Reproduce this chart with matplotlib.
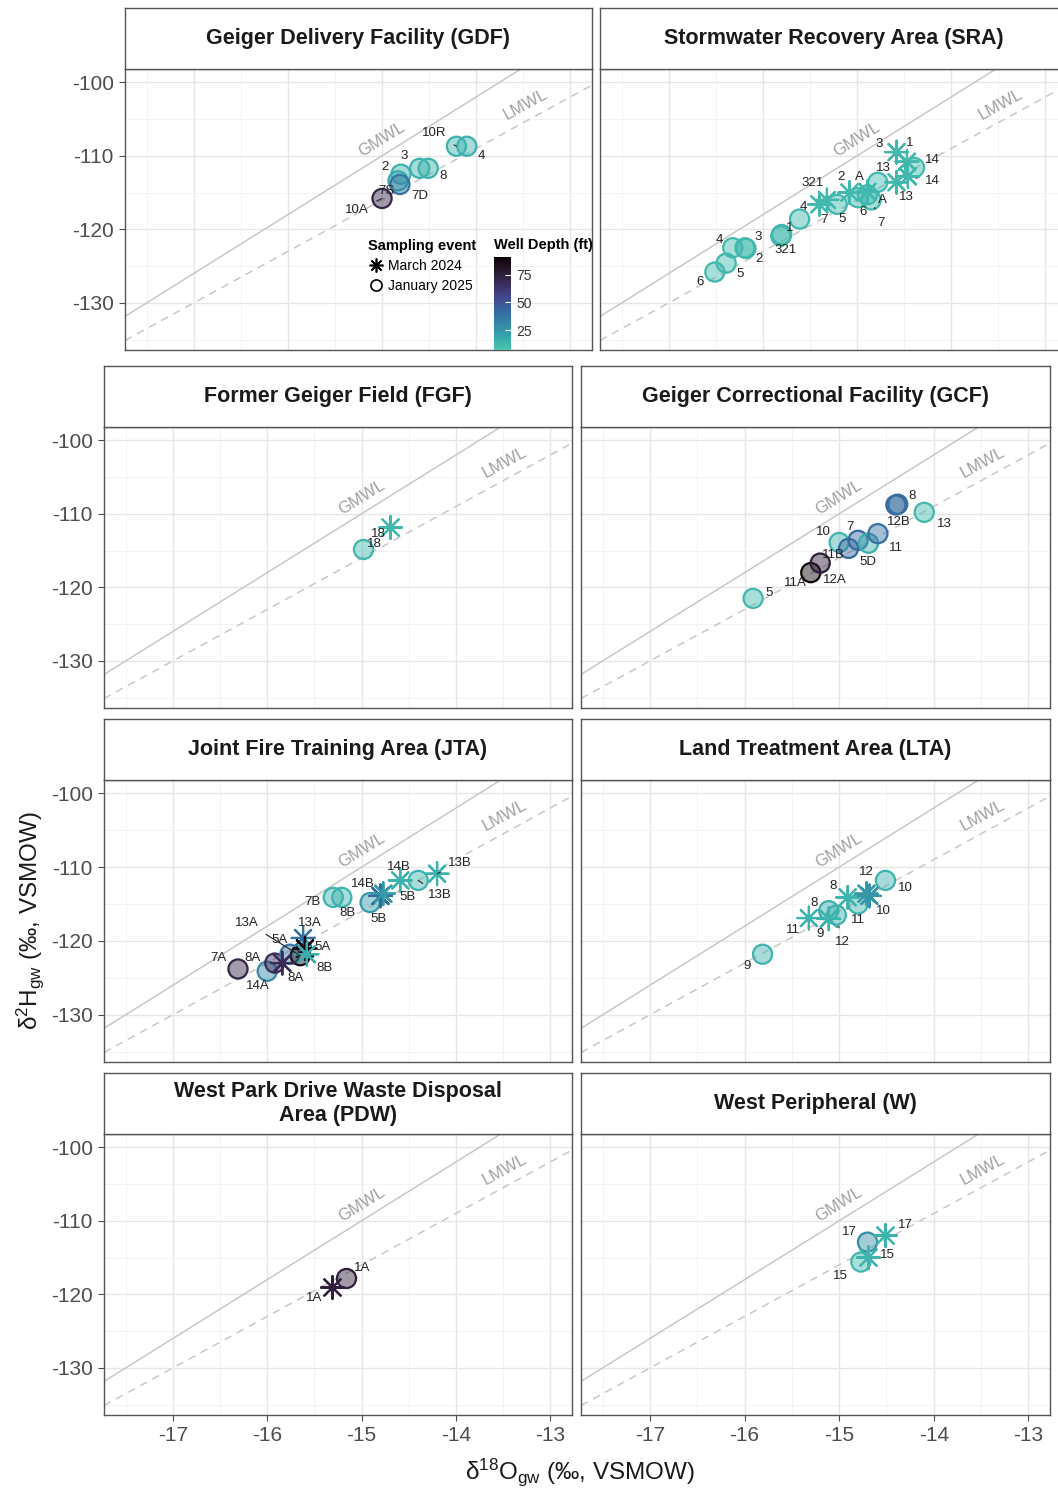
import numpy as np
import matplotlib
matplotlib.use("Agg")
import matplotlib.pyplot as plt
import seaborn as sns
from matplotlib.lines import Line2D
from matplotlib.colors import ListedColormap, Normalize

plt.rcParams['font.family'] = ['Liberation Sans', 'DejaVu Sans']
plt.rcParams['mathtext.fontset'] = 'custom'
plt.rcParams['mathtext.rm'] = 'Liberation Sans'
plt.rcParams['mathtext.it'] = 'Liberation Sans:italic'
plt.rcParams['axes.unicode_minus'] = False

# ---- data (d18O, d2H per site; event J = January 2025, M = March 2024) ----
gdf_site = ['10R', '4', '3', '8', '2', '7S', '7D', '10A']
gdf_o18 = [-14.21, -14.10, -14.60, -14.51, -14.80, -14.83, -14.81, -15.00]
gdf_h2 = [-108.7, -108.7, -111.7, -111.7, -112.5, -113.4, -113.9, -115.8]
gdf_depth = [15, 15, 15, 15, 15, 18, 38, 72]
gdf_event = ['J'] * 8
gdf_off = [(-22, 13), (15, -10), (-16, 12), (15, -8), (-16, 7), (-12, -10), (20, -12), (-25, -12)]

sra_site = ['6', '5', '4', '3', '2', '1', '321', '4', '5', '6', 'A', '7', '13', '14',
            '7', '321', '2', 'A', '3', '1', '13', '14']
sra_o18 = [-16.51, -16.39, -16.32, -16.19, -16.18, -15.80, -15.81, -15.61, -15.21, -14.99,
           -14.89, -14.85, -14.78, -14.39,
           -15.40, -15.32, -15.08, -14.89, -14.58, -14.47, -14.58, -14.46]
sra_h2 = [-125.8, -124.6, -122.5, -122.5, -122.6, -120.7, -120.9, -118.6, -116.6, -115.7,
          -115.3, -116.0, -113.6, -111.6,
          -116.6, -116.0, -115.0, -114.9, -109.5, -110.8, -113.6, -112.8]
sra_depth = [12] * 22
sra_event = ['J'] * 14 + ['M'] * 8
sra_off = [(-15, -10), (14, -11), (-13, 8), (13, 11), (13, -11), (8, 7), (5, -14), (4, 12),
           (5, -15), (5, -14), (15, -5), (10, -23), (6, 14), (18, 8),
           (5, -16), (-14, 17), (-9, 16), (-8, 15), (-17, 8), (3, 19), (10, -15), (25, -5)]

fgf_site = ['18', '18']
fgf_o18 = [-14.99, -14.70]
fgf_h2 = [-114.8, -111.8]
fgf_depth = [12, 12]
fgf_event = ['J', 'M']
fgf_off = [(12, 5), (-12, -7)]

gcf_site = ['5', '11A', '12A', '10', '11B', '7', '5D', '11', '12B', '8', '13']
gcf_o18 = [-15.91, -15.30, -15.20, -15.00, -14.90, -14.80, -14.69, -14.59, -14.40, -14.38, -14.10]
gcf_h2 = [-121.5, -118.0, -116.7, -113.9, -114.7, -113.6, -114.0, -112.7, -108.8, -108.7, -109.8]
gcf_depth = [12, 90, 76, 14, 42, 42, 16, 40, 42, 40, 12]
gcf_event = ['J'] * 11
gcf_off = [(16, 5), (-15, -10), (15, -17), (-16, 10), (-15, -7), (-8, 13), (-1, -19),
           (18, -14), (3, -17), (14, 8), (20, -12)]

jta_site = ['7A', '14A', '8A', '5A', '13A', '7B', '8B', '5B', '13B',
            '8A', '13A', '5A', '8B', '14B', '5B', '14B', '13B']
jta_o18 = [-16.31, -16.00, -15.92, -15.76, -15.65, -15.30, -15.21, -14.91, -14.40,
           -15.84, -15.62, -15.60, -15.58, -14.80, -14.77, -14.59, -14.20]
jta_h2 = [-123.8, -124.1, -123.0, -121.8, -122.0, -114.1, -114.1, -114.8, -111.8,
          -123.0, -119.6, -121.0, -121.8, -113.9, -113.6, -111.8, -110.9]
jta_depth = [72, 30, 68, 38, 85, 14, 14, 24, 14,
             68, 40, 88, 16, 42, 24, 14, 14]
jta_event = ['J'] * 9 + ['M'] * 8
jta_off = [(-20, 11), (-9, -15), (-22, 5), (-10, 14), (-53, 33), (-21, -5), (6, -16), (8, -16),
           (22, -15), (13, -15), (7, 15), (18, 1), (18, -14), (-18, 12), (24, -3), (-1, 13), (23, 11)]

lta_site = ['9', '8', '12', '11', '10', '11', '9', '8', '12', '10']
lta_o18 = [-15.81, -15.11, -15.03, -14.80, -14.51, -15.32, -15.11, -14.91, -14.71, -14.68]
lta_h2 = [-121.8, -115.9, -116.5, -115.0, -111.8, -116.9, -117.0, -114.1, -113.6, -113.9]
lta_depth = [14, 16, 14, 14, 14, 14, 14, 14, 24, 26]
lta_event = ['J'] * 5 + ['M'] * 5
lta_off = [(-15, -12), (-15, 8), (6, -27), (0, -16), (20, -8),
           (-16, -12), (-9, -15), (-15, 11), (0, 22), (14, -15)]

pdw_site = ['1A', '1A']
pdw_o18 = [-15.17, -15.31]
pdw_h2 = [-117.8, -119.0]
pdw_depth = [75, 75]
pdw_event = ['J', 'M']
pdw_off = [(17, 10), (-18, -11)]

w_site = ['17', '15', '17', '15']
w_o18 = [-14.70, -14.77, -14.51, -14.69]
w_h2 = [-112.9, -115.6, -112.0, -115.0]
w_depth = [28, 12, 14, 14]
w_event = ['J', 'J', 'M', 'M']
w_off = [(-18, 10), (-20, -14), (20, 11), (19, 3)]

titles = ['Geiger Delivery Facility (GDF)', 'Stormwater Recovery Area (SRA)',
          'Former Geiger Field (FGF)', 'Geiger Correctional Facility (GCF)',
          'Joint Fire Training Area (JTA)', 'Land Treatment Area (LTA)',
          'West Park Drive Waste Disposal\nArea (PDW)', 'West Peripheral (W)']

panels = [
    (gdf_site, gdf_o18, gdf_h2, gdf_depth, gdf_event, gdf_off),
    (sra_site, sra_o18, sra_h2, sra_depth, sra_event, sra_off),
    (fgf_site, fgf_o18, fgf_h2, fgf_depth, fgf_event, fgf_off),
    (gcf_site, gcf_o18, gcf_h2, gcf_depth, gcf_event, gcf_off),
    (jta_site, jta_o18, jta_h2, jta_depth, jta_event, jta_off),
    (lta_site, lta_o18, lta_h2, lta_depth, lta_event, lta_off),
    (pdw_site, pdw_o18, pdw_h2, pdw_depth, pdw_event, pdw_off),
    (w_site, w_o18, w_h2, w_depth, w_event, w_off),
]

# ---- layout (pixel boxes: left, top, right, bottom) ----
W, H = 1058, 1490
fig = plt.figure(figsize=(W / 100, H / 100), dpi=100)


def box(l, t, r, b):
    return [l / W, 1 - b / H, (r - l) / W, (b - t) / H]


panel_boxes = [(125, 69, 592, 350), (600, 69, 1067, 350),
               (104, 427, 572, 708), (581, 427, 1050, 708),
               (104, 780, 572, 1062), (581, 780, 1050, 1062),
               (104, 1134, 572, 1415), (581, 1134, 1050, 1415)]
strip_h = 61

# depth colours: teal (shallow) -> near black (deep)
mako = sns.color_palette("mako", as_cmap=True)
cmap = ListedColormap(mako(np.linspace(0.76, 0.0, 256)))
norm = Normalize(vmin=7, vmax=91)

xmin, xmax = -17.73, -12.77
ymin, ymax = -136.4, -98.2
xs = np.array([xmin, xmax])
border = '#555555'

for i, (p, t, pb) in enumerate(zip(panels, titles, panel_boxes)):
    site, o18, h2, depth, event, off = p
    l, tp, r, b = pb
    ax = fig.add_axes(box(l, tp, r, b))
    ax.set_xlim(xmin, xmax)
    ax.set_ylim(ymin, ymax)
    ax.set_xticks([-17, -16, -15, -14, -13])
    ax.set_xticks(np.arange(-17.5, -12.7, 1.0), minor=True)
    ax.set_yticks([-130, -120, -110, -100])
    ax.set_yticks([-135, -125, -115, -105], minor=True)
    ax.grid(which='major', color='#e6e6e6', lw=1.0)
    ax.grid(which='minor', color='#f1f1f1', lw=0.6)
    ax.set_axisbelow(True)
    for s in ax.spines.values():
        s.set_color(border)
        s.set_linewidth(1.0)
    ax.tick_params(which='minor', length=0)
    ax.tick_params(which='major', colors='#4d4d4d', labelsize=15, length=4, width=0.8, pad=4)
    if i % 2 == 1:
        ax.tick_params(axis='y', which='major', length=0, labelleft=False)
    if i < 6:
        ax.tick_params(axis='x', which='major', length=0, labelbottom=False)

    # meteoric water lines
    ax.plot(xs, 8 * xs + 10, color='#c8c8c8', lw=1.1, zorder=1)
    ax.plot(xs, 7 * xs - 11, color='#c8c8c8', lw=1.1, ls=(0, (5, 4)), zorder=1)
    ax.text(-15.0, -107.8, 'GMWL', color='#a0a0a0', fontsize=12, ha='center', va='center',
            rotation=np.degrees(np.arctan(8)), transform_rotates_text=True, rotation_mode='anchor')
    ax.text(-13.48, -103.0, 'LMWL', color='#a0a0a0', fontsize=12, ha='center', va='center',
            rotation=np.degrees(np.arctan(7)), transform_rotates_text=True, rotation_mode='anchor')

    o18 = np.array(o18)
    h2 = np.array(h2)
    depth = np.array(depth)
    ev = np.array(event)
    cols = cmap(norm(depth))
    jm = ev == 'J'
    mm = ev == 'M'
    fc = cols.copy()
    fc[:, 3] = 0.45
    ax.scatter(o18[jm], h2[jm], s=190, marker='o', facecolors=fc[jm], edgecolors=cols[jm],
               linewidths=1.6, zorder=3)
    ax.scatter(o18[mm], h2[mm], s=270, marker=(8, 2, 0), c=cols[mm], linewidths=1.6, zorder=4)

    for name, x, y, (dx, dy) in zip(site, o18, h2, off):
        dist = np.hypot(dx, dy) * 0.72
        kw = {}
        if dist > 18:
            kw['arrowprops'] = dict(arrowstyle='-', color='#222222', lw=0.8,
                                    shrinkA=4, shrinkB=max(dist - 12, 0))
        ax.annotate(name, (x, y), xytext=(dx * 0.72, dy * 0.72), textcoords='offset points',
                    ha='center', va='center', fontsize=9.5, color='#222222', zorder=5, **kw)

    # strip
    sax = fig.add_axes(box(l, tp - strip_h, r, tp))
    sax.set_xticks([])
    sax.set_yticks([])
    sax.set_facecolor('white')
    for s in sax.spines.values():
        s.set_color(border)
        s.set_linewidth(1.0)
    sax.text(0.5, 0.5, t, ha='center', va='center', fontsize=15.5, fontweight='bold',
             color='#1a1a1a', linespacing=1.15, transform=sax.transAxes)

    if i == 0:
        hs = [Line2D([], [], marker=(8, 2, 0), color='black', ls='none', markersize=10, mew=1.2),
              Line2D([], [], marker='o', color='black', mfc='none', ls='none', markersize=8, mew=1.2)]
        leg = fig.legend(hs, ['March 2024', 'January 2025'], title='Sampling event',
                         loc='upper left', bbox_to_anchor=(362 / W, 1 - 233 / H),
                         frameon=False, fontsize=10, title_fontsize=10.5,
                         handletextpad=0.3, borderaxespad=0, labelspacing=0.45,
                         handlelength=1.2, alignment='left')
        leg.get_title().set_fontweight('bold')
        cax = fig.add_axes(box(494, 257, 511, 350))
        cb = fig.colorbar(plt.cm.ScalarMappable(norm=norm, cmap=cmap), cax=cax)
        cb.outline.set_visible(False)
        cb.set_ticks([25, 50, 75])
        cax.tick_params(colors='white', labelcolor='#333333', direction='in', length=4,
                        labelsize=10, pad=4)
        cax.set_title('Well Depth (ft)', loc='left', fontsize=10.5, fontweight='bold', pad=6)

fig.text(580 / W, 1 - 1472 / H, r'δ$^{18}$O$_{\mathrm{gw}}$ (‰, VSMOW)', ha='center',
         va='center', fontsize=17.5, color='#1a1a1a')
fig.text(30 / W, 1 - 920 / H, r'δ$^{2}$H$_{\mathrm{gw}}$ (‰, VSMOW)', ha='center',
         va='center', rotation=90, fontsize=17.5, color='#1a1a1a')

fig.savefig('out.png', dpi=100)
